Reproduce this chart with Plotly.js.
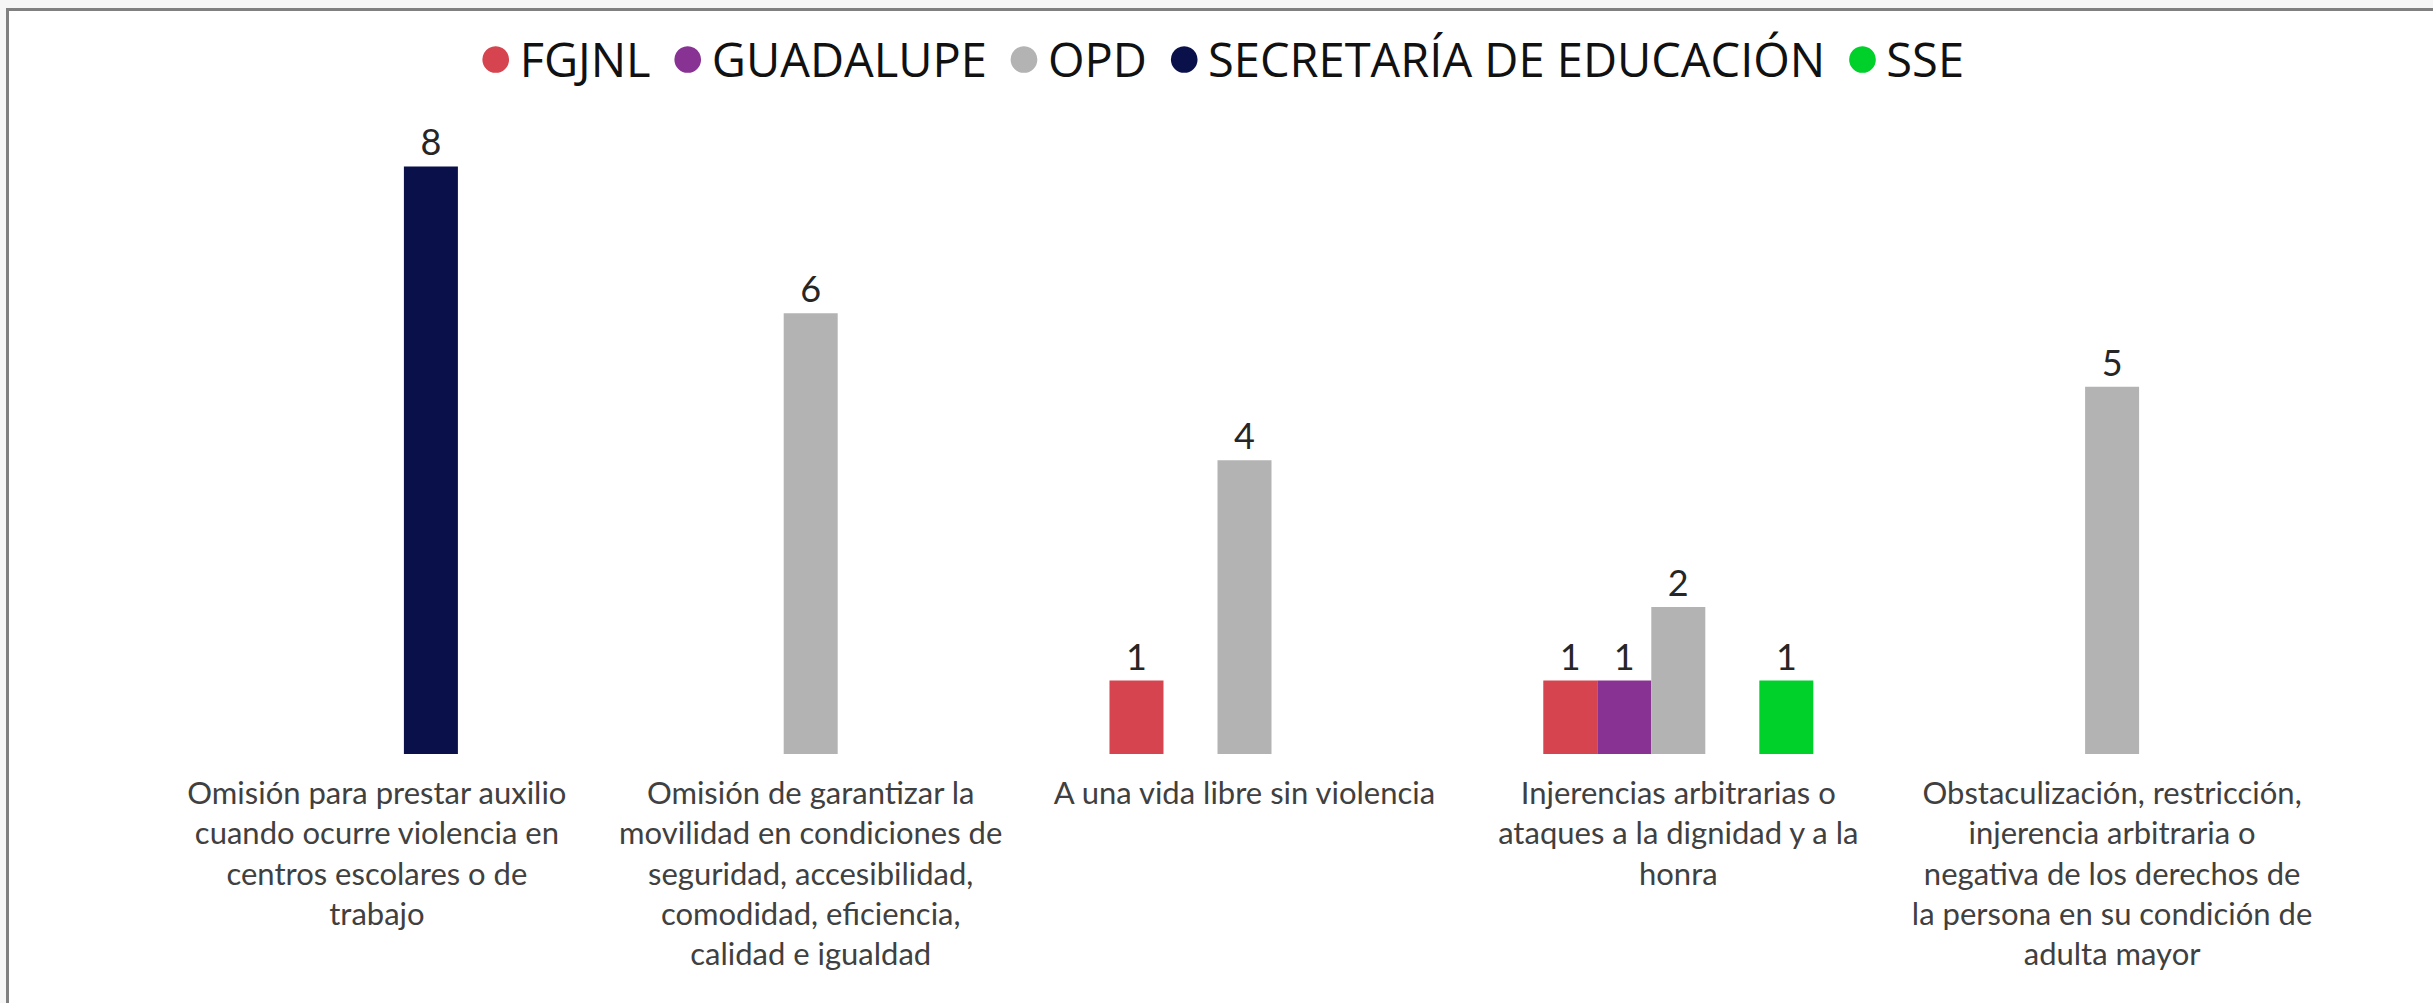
<!DOCTYPE html>
<html>
<head>
<meta charset="utf-8">
<script src="https://cdn.plot.ly/plotly-3.0.1.min.js"></script>
<style>
  body { margin: 0; background: #f6f6f6; }
  #chart {
    position: absolute; left: 6px; top: 8px;
    border-top: 3px solid #808080; border-left: 3px solid #808080;
    background: #fff;
  }
</style>
</head>
<body>
<div id="chart"></div>
<script>
const categories = [
  'Omisión para prestar auxilio<br>cuando ocurre violencia en<br>centros escolares o de<br>trabajo',
  'Omisión de garantizar la<br>movilidad en condiciones de<br>seguridad, accesibilidad,<br>comodidad, eficiencia,<br>calidad e igualdad',
  'A una vida libre sin violencia',
  'Injerencias arbitrarias o<br>ataques a la dignidad y a la<br>honra',
  'Obstaculización, restricción,<br>injerencia arbitraria o<br>negativa de los derechos de<br>la persona en su condición de<br>adulta mayor'
];

const seriesNames = ['FGJNL', 'GUADALUPE', 'OPD', 'SECRETARÍA DE EDUCACIÓN', 'SSE'];
const seriesColors = ['#D6454F', '#883393', '#B3B3B3', '#0A114A', '#00D12A'];

const fgjnl      = [null, null, 1, 1, null];
const guadalupe  = [null, null, null, 1, null];
const opd        = [null, 6, 4, 2, 5];
const secretaria = [8, null, null, null, null];
const sse        = [null, null, null, 1, null];

const seriesValues = [fgjnl, guadalupe, opd, secretaria, sse];

let traces = [];
for (let i = 0; i < seriesNames.length; i++) {
    traces.push({
        type: 'bar',
        name: seriesNames[i],
        x: categories,
        y: seriesValues[i],
        marker: { color: seriesColors[i] },
        text: seriesValues[i].map(v => v === null ? '' : String(v)),
        textposition: 'outside',
        textfont: { family: 'Lato, sans-serif', size: 36, color: '#262626' },
        cliponaxis: false,
        showlegend: false,
        hoverinfo: 'skip'
    });
}

// legend line built from the series names and colours
let smallSpace = '<span style="font-size:20px">\u00A0</span>';
let legendParts = [];
for (let i = 0; i < seriesNames.length; i++) {
    legendParts.push('<span style="color:' + seriesColors[i] + ';font-size:62px">●</span>' + smallSpace + seriesNames[i]);
}
let legendText = legendParts.join('\u00A0<span style="font-size:24px">\u00A0</span>');

let layout = {
    width: 2424,
    height: 992,
    margin: { l: 151, r: 104, t: 81.5, b: 248.5 },
    paper_bgcolor: '#ffffff',
    plot_bgcolor: '#ffffff',
    barmode: 'group',
    bargap: 0.3775,
    bargroupgap: 0,
    showlegend: false,
    xaxis: {
        type: 'category',
        showline: false,
        showgrid: false,
        zeroline: false,
        ticks: '',
        tickangle: 0,
        ticklabelstandoff: 18,
        tickfont: { family: 'Lato, sans-serif', size: 31, color: '#404040' }
    },
    yaxis: {
        range: [0, 9],
        visible: false,
        showgrid: false,
        zeroline: false
    },
    annotations: [{
        xref: 'paper', yref: 'paper',
        x: 0.489, y: 1.06,
        xanchor: 'center', yanchor: 'middle',
        showarrow: false,
        text: legendText,
        font: { family: '"Open Sans", sans-serif', size: 47, color: '#111111' }
    }]
};

Plotly.newPlot('chart', traces, layout, { displayModeBar: false, staticPlot: true });
</script>
</body>
</html>
